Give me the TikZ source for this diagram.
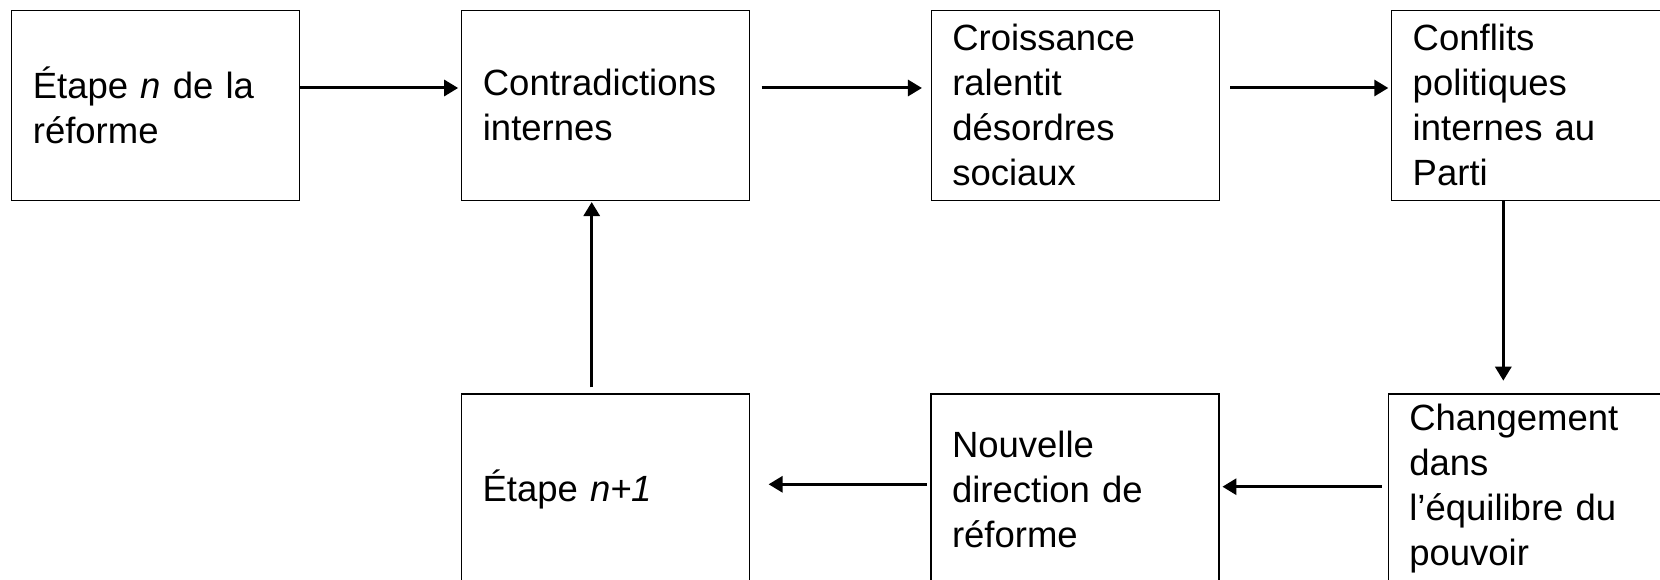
\documentclass[tikz,border=0pt]{standalone}
\usepackage{fontspec}
\setmainfont{Liberation Sans}
\usetikzlibrary{arrows.meta}
\begin{document}
\begin{tikzpicture}[x=1pt,y=-1pt,
  box/.style={draw=black, line width=1.2pt, inner xsep=21pt, inner ysep=0pt, outer sep=0pt,
    text width=246pt, align=left, minimum width=288pt, minimum height=190pt,
    font=\fontsize{36.5}{45}\selectfont},
  arr/.style={line width=3pt, -{Triangle[length=14pt,width=16pt]}}]
\useasboundingbox (0,0) rectangle (1660,580);
\clip (0,0) rectangle (1660,580);
\node[box] (b1) at (155.85,105.35) {Étape \textit{n} de la\\réforme};
\node[box] (b2) at (605.85,105.35) {Contradictions\\internes};
\node[box] (b3) at (1075.25,105.35) {Croissance\\ralentit\\désordres\\sociaux};
\node[box] (b4) at (1535.7,105.35) {Conflits\\politiques\\internes au\\Parti};
\node[box] (b5) at (605.6,489) {Étape \textit{n+1}};
\node[box] (b6) at (1075,489) {Nouvelle\\direction de\\réforme};
\node[box] (b7) at (1532.3,489) {Changement\\dans\\l’équilibre du\\pouvoir};
\coordinate (dx) at (1503.3,0);
\coordinate (ux) at (591.7,0);
\draw[arr, shorten >=3.7pt] ([yshift=17.35pt]b1.east) -- ([yshift=17.35pt]b2.west);
\draw[arr, shorten <=11.7pt, shorten >=9.3pt] ([yshift=17.35pt]b2.east) -- ([yshift=17.35pt]b3.west);
\draw[arr, shorten <=11pt, shorten >=3.4pt] ([yshift=17.35pt]b3.east) -- ([yshift=17.35pt]b4.west);
\draw[arr, shorten >=13.3pt] (b4.south -| dx) -- (b7.north -| dx);
\draw[arr, shorten <=6.6pt, shorten >=3.4pt] ([yshift=2.3pt]b7.west) -- ([yshift=2.3pt]b6.east);
\draw[arr, shorten <=4.3pt, shorten >=19pt] ([yshift=4.7pt]b6.west) -- ([yshift=4.7pt]b5.east);
\draw[arr, shorten <=6.7pt, shorten >=1.7pt] (b5.north -| ux) -- (b2.south -| ux);
\end{tikzpicture}
\end{document}
